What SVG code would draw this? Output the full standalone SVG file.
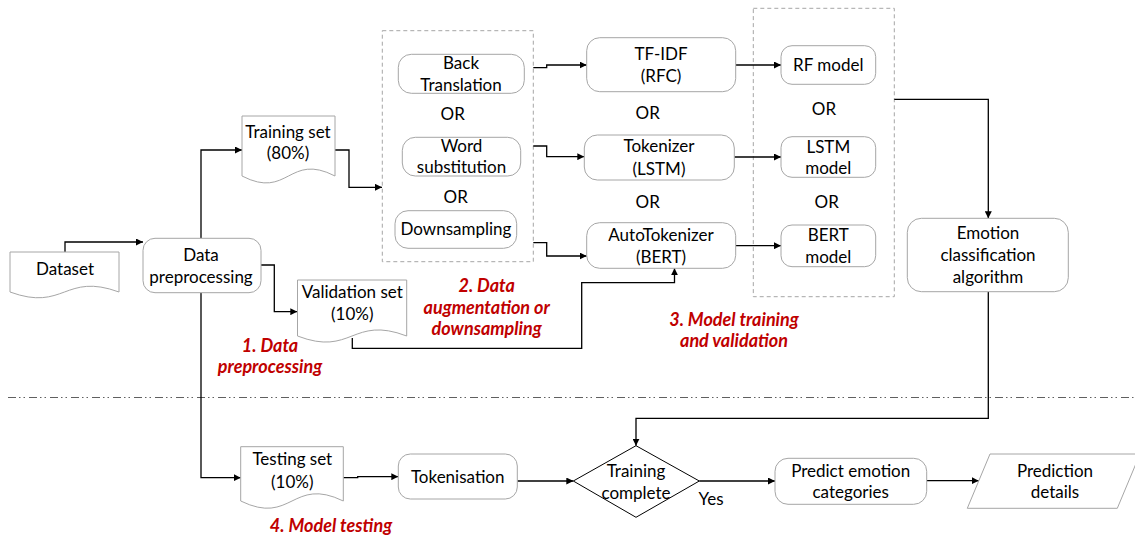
<svg xmlns="http://www.w3.org/2000/svg" width="1135" height="537" viewBox="0 0 1135 537">
  <style>
    .shape { fill: #ffffff; stroke: #a6a6a6; stroke-width: 1; }
    .group { fill: none; stroke: #a6a6a6; stroke-width: 1; stroke-dasharray: 4 3; }
    .wire { fill: none; stroke: #000000; stroke-width: 1.3; marker-end: url(#arrow); }
    .sep { fill: none; stroke: #606060; stroke-width: 1.2; stroke-dasharray: 8 3 1.5 3 1.5 4; }
    text { font-family: Lato, "Open Sans", "Liberation Sans", sans-serif; font-size: 17px; fill: #000000; text-anchor: middle; }
    .stage { font-weight: bold; font-style: italic; fill: #c00000; font-size: 18px; }
  </style>
  <defs>
    <marker id="arrow" viewBox="0 0 10 10" refX="10" refY="5" markerWidth="7" markerHeight="7" markerUnits="userSpaceOnUse" orient="auto">
      <path d="M0,0 L10,5 L0,10 Z" fill="#000000"/>
    </marker>
  </defs>
  <rect width="1135" height="537" fill="#ffffff"/>

  <!-- dash-dot divider between training and testing phases -->
  <line class="sep" x1="8" y1="397.5" x2="1135" y2="397.5"/>

  <!-- dashed grouping frames -->
  <rect id="augment-frame" class="group" x="382.3" y="30.7" width="151" height="231"/>
  <rect id="model-frame" class="group" x="753.3" y="8.3" width="141" height="288.4"/>

  <g id="connectors">
    <path class="wire" d="M65,252 V242 H143"/>
    <path class="wire" d="M201,238.3 V150 H242"/>
    <path class="wire" d="M201,292.7 V477.7 H240.7"/>
    <path class="wire" d="M261,265 H274.3 V311.7 H297.3"/>
    <path class="wire" d="M335,150 H349 V187.3 H382"/>
    <path class="wire" d="M352.3,338 V348.3 H581.7 V282.7 H674.5 V268.3"/>
    <path class="wire" d="M533.3,67.7 H546.7 V65 H586.7"/>
    <path class="wire" d="M533.3,146 H546.7 V156.7 H584.3"/>
    <path class="wire" d="M533.3,242.7 H546.7 V256 H586.7"/>
    <path class="wire" d="M735.7,65 H781"/>
    <path class="wire" d="M734.3,157 H781"/>
    <path class="wire" d="M735.7,245.7 H781"/>
    <path class="wire" d="M894.3,99.3 H988.3 V218.3"/>
    <path class="wire" d="M988.3,291.7 V418.3 H636 V445.7"/>
    <path class="wire" d="M343.3,477.7 H357.7 V476.7 H398.3"/>
    <path class="wire" d="M517.3,481 H573.3"/>
    <path class="wire" d="M699.3,481 H775"/>
    <path class="wire" d="M926.7,480.7 H978.7"/>
  </g>

  <g id="dataset">
    <path class="shape" d="M10,252 H119 V292 C64.5,272 64.5,312 10,292 Z"/>
    <text x="65" y="275">Dataset</text>
  </g>

  <g id="data-preprocessing">
    <rect class="shape" x="143" y="238.3" width="118" height="54.4" rx="12"/>
    <text x="201" y="261">Data</text>
    <text x="201" y="283">preprocessing</text>
  </g>

  <g id="training-set">
    <path class="shape" d="M242,116 H335 V176 C288.5,152 288.5,200 242,176 Z"/>
    <text x="288" y="137.5">Training set</text>
    <text x="288" y="159">(80%)</text>
  </g>

  <g id="validation-set">
    <path class="shape" d="M297.5,280 H406.7 V336 C352,315 352,357 297.5,336 Z"/>
    <text x="352.3" y="298.3">Validation set</text>
    <text x="352.3" y="320.3">(10%)</text>
  </g>

  <g id="back-translation">
    <rect class="shape" x="398.3" y="54.3" width="126" height="39" rx="13"/>
    <text x="461" y="69">Back</text>
    <text x="461" y="91">Translation</text>
  </g>
  <text x="452.7" y="120">OR</text>

  <g id="word-substitution">
    <rect class="shape" x="402.3" y="137.3" width="118.4" height="38.7" rx="13"/>
    <text x="461.5" y="151.5">Word</text>
    <text x="461.5" y="173">substitution</text>
  </g>
  <text x="455.7" y="202.7">OR</text>

  <g id="downsampling">
    <rect class="shape" x="395" y="210.7" width="121.7" height="37.6" rx="13"/>
    <text x="456" y="235">Downsampling</text>
  </g>

  <g id="tfidf">
    <rect class="shape" x="586.7" y="37.7" width="149" height="54" rx="13"/>
    <text x="661" y="60">TF-IDF</text>
    <text x="661" y="82">(RFC)</text>
  </g>
  <text x="647.7" y="119">OR</text>

  <g id="tokenizer">
    <rect class="shape" x="584.3" y="135" width="150" height="45" rx="13"/>
    <text x="659" y="151.7">Tokenizer</text>
    <text x="659" y="175">(LSTM)</text>
  </g>
  <text x="647.7" y="207.7">OR</text>

  <g id="autotokenizer">
    <rect class="shape" x="586.7" y="222.7" width="149" height="45.6" rx="13"/>
    <text x="661" y="241">AutoTokenizer</text>
    <text x="661" y="262.7">(BERT)</text>
  </g>

  <g id="rf-model">
    <rect class="shape" x="781" y="45.7" width="94.7" height="38.6" rx="11"/>
    <text x="828.3" y="71">RF model</text>
  </g>
  <text x="824" y="115">OR</text>

  <g id="lstm-model">
    <rect class="shape" x="781" y="136.7" width="94.7" height="40.6" rx="11"/>
    <text x="828.3" y="152.7">LSTM</text>
    <text x="828.3" y="174.3">model</text>
  </g>
  <text x="826.7" y="207.7">OR</text>

  <g id="bert-model">
    <rect class="shape" x="781" y="225" width="94.7" height="41.7" rx="11"/>
    <text x="828.3" y="241">BERT</text>
    <text x="828.3" y="262.7">model</text>
  </g>

  <g id="emotion-classification">
    <rect class="shape" x="907.3" y="218.3" width="161" height="73.4" rx="14"/>
    <text x="988" y="239">Emotion</text>
    <text x="988" y="261">classification</text>
    <text x="988" y="282.7">algorithm</text>
  </g>

  <g id="testing-set">
    <path class="shape" d="M240.7,446.7 H343.3 V501 C292,476 292,526 240.7,501 Z"/>
    <text x="292.3" y="465.3">Testing set</text>
    <text x="292.3" y="487.7">(10%)</text>
  </g>

  <g id="tokenisation">
    <rect class="shape" x="398.3" y="454" width="119" height="45" rx="12"/>
    <text x="457.7" y="483.3">Tokenisation</text>
  </g>

  <g id="training-complete">
    <path d="M573.3,481 L636,445.7 L699.3,481 L636,517.3 Z" fill="#ffffff" stroke="#000000" stroke-width="1"/>
    <text x="636" y="476.7">Training</text>
    <text x="636" y="498.7">complete</text>
  </g>
  <text x="711" y="505">Yes</text>

  <g id="predict-emotion">
    <rect class="shape" x="775" y="458.3" width="151.7" height="46" rx="13"/>
    <text x="850.7" y="476.7">Predict emotion</text>
    <text x="850.7" y="498.3">categories</text>
  </g>

  <g id="prediction-details">
    <path class="shape" d="M990,454 H1140 L1117.3,508.3 H967.3 Z"/>
    <text x="1055" y="476.7">Prediction</text>
    <text x="1055" y="498.3">details</text>
  </g>

  <g id="stage-labels">
    <text class="stage" x="270" y="352">1. Data</text>
    <text class="stage" x="270" y="373">preprocessing</text>
    <text class="stage" x="486.7" y="292">2. Data</text>
    <text class="stage" x="486.7" y="313.7">augmentation or</text>
    <text class="stage" x="486.7" y="335.3">downsampling</text>
    <text class="stage" x="734" y="326">3. Model training</text>
    <text class="stage" x="734" y="347">and validation</text>
    <text class="stage" x="331" y="532">4. Model testing</text>
  </g>
</svg>
